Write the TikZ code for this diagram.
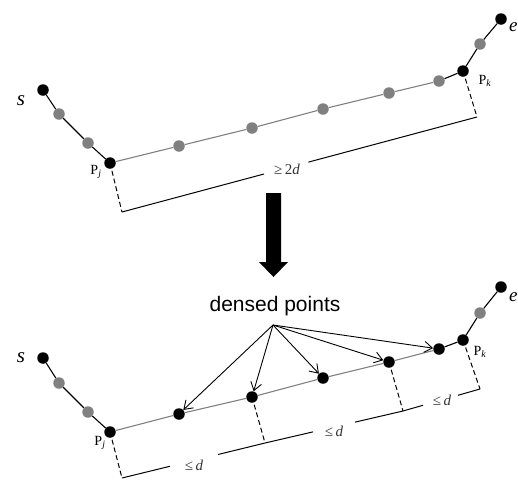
\documentclass[tikz,border=0pt]{standalone}
\usepackage{fontspec}
\setmainfont{Liberation Serif}
\setsansfont{Liberation Sans}
\usetikzlibrary{calc,arrows.meta}
\begin{document}
\begin{tikzpicture}[x=1pt,y=-1pt,
  bdot/.style={circle,fill=black,minimum size=11.5pt,inner sep=0pt},
  gdot/.style={circle,fill=ptgray,minimum size=11.5pt,inner sep=0pt},
  seg/.style={line width=1.1pt,black},
  gseg/.style={line width=1.1pt,ptgray},
  dim/.style={line width=1pt,black},
  dimdash/.style={line width=1pt,black,dash pattern=on 5pt off 3pt},
  ptr/.style={line width=0.9pt,-{Straight Barb[length=8pt,width=11pt,line width=0.9pt]}},
  lbl/.style={font=\fontsize{14}{14}\selectfont,inner sep=0pt},
  endlbl/.style={font=\fontsize{21}{21}\selectfont\itshape,inner sep=0pt},
  edgelbl/.style={font=\fontsize{19}{19}\selectfont\itshape,inner sep=0pt},
  dimlbl/.style={font=\fontsize{15}{15}\selectfont,inner sep=0pt,text=black!80}]
\definecolor{ptgray}{RGB}{128,128,128}
\useasboundingbox (0,0) rectangle (518,480);

% ---------- original path ----------
\node[bdot] (s1) at (43,90) {};
\node[gdot] (a1) at (59,114) {};
\node[gdot] (a2) at (88,143) {};
\node[bdot] (pj1) at (110,163) {};
\node[gdot] (m1) at (179,146) {};
\node[gdot] (m2) at (252,128) {};
\node[gdot] (m3) at (323,109) {};
\node[gdot] (m4) at (389,93) {};
\node[gdot] (m5) at (439,81) {};
\node[bdot] (pk1) at (463,71) {};
\node[gdot] (b1) at (480,44) {};
\node[bdot] (e1) at (501,19) {};

\draw[seg] (s1) -- (a1) -- (a2) -- (pj1);
\draw[gseg] (pj1) -- (m1) -- (m2) -- (m3) -- (m4) -- (m5);
\draw[seg] (m5) -- (pk1) -- (b1) -- (e1);

\node[endlbl] (ls1) at (21,101) {s};
\node[edgelbl,anchor=west] (le1) at (509,27) {e};
\node[lbl] (lpj1) at (96,172) {P\textsubscript{\itshape j}};
\node[lbl] (lpk1) at (485,81) {P\textsubscript{\itshape k}};

% dimension of the straight run
\coordinate (u1) at (122,212);
\coordinate (u2) at (477,117);
\draw[dimdash] (pj1.center) -- (u1);
\draw[dimdash] (pk1.center) -- (u2);
\draw[dim] (u1) -- ($(u1)!0.40!(u2)$);
\draw[dim] ($(u1)!0.525!(u2)$) -- (u2);
\node[dimlbl] (du) at (287,169) {≥\,2\textit{d}};

% ---------- transition arrow ----------
\fill[black] (266,193) -- (281,193) -- (281,262) -- (288,262) -- (273.5,277)
  -- (259,262) -- (266,262) -- cycle;

% ---------- densified path ----------
\node[bdot] (s2) at (43,358) {};
\node[gdot] (c1) at (59,383) {};
\node[gdot] (c2) at (88,412) {};
\node[bdot] (pj2) at (110,432) {};
\node[bdot] (d1) at (179,414) {};
\node[bdot] (d2) at (252,397) {};
\node[bdot] (d3) at (323,378) {};
\node[bdot] (d4) at (389,362) {};
\node[bdot] (d5) at (439,349) {};
\node[bdot] (pk2) at (463,340) {};
\node[gdot] (f1) at (480,313) {};
\node[bdot] (e2) at (501,287) {};

\draw[seg] (s2) -- (c1) -- (c2) -- (pj2);
\draw[gseg] (pj2) -- (d1) -- (d2) -- (d3) -- (d4) -- (d5);
\draw[seg] (d5) -- (pk2) -- (f1) -- (e2);

\node[endlbl] (ls2) at (21,358) {s};
\node[edgelbl,anchor=west] (le2) at (509,297) {e};
\node[lbl] (lpj2) at (100,443) {P\textsubscript{\itshape j}};
\node[lbl] (lpk2) at (480,352) {P\textsubscript{\itshape k}};

% callout
\node[font=\sffamily\fontsize{21}{21}\selectfont,inner sep=0pt] (dp) at (275,306) {densed points};
\coordinate (o) at (273,325);
\foreach \t in {d1,d2,d3,d4,d5} \draw[ptr] (o) -- (\t);

% spacing dimensions
\coordinate (w1) at (122,478);
\coordinate (w2) at (265,443);
\coordinate (w3) at (403,411);
\coordinate (w4) at (480,389);
\draw[dimdash] (pj2.center) -- (w1);
\draw[dimdash] (d2.center) -- (w2);
\draw[dimdash] (d4.center) -- (w3);
\draw[dimdash] (pk2.center) -- (w4);
\draw[dim] (w1) -- ($(w1)!0.336!(w2)$);
\draw[dim] ($(w1)!0.671!(w2)$) -- (w2) -- ($(w2)!0.348!(w3)$);
\draw[dim] ($(w2)!0.652!(w3)$) -- (w3) -- ($(w3)!0.26!(w4)$);
\draw[dim] ($(w3)!0.714!(w4)$) -- (w4);
\node[dimlbl] (dl1) at (194,465) {≤\,\textit{d}};
\node[dimlbl] (dl2) at (334,431) {≤\,\textit{d}};
\node[dimlbl] (dl3) at (442,400) {≤\,\textit{d}};
\end{tikzpicture}
\end{document}
